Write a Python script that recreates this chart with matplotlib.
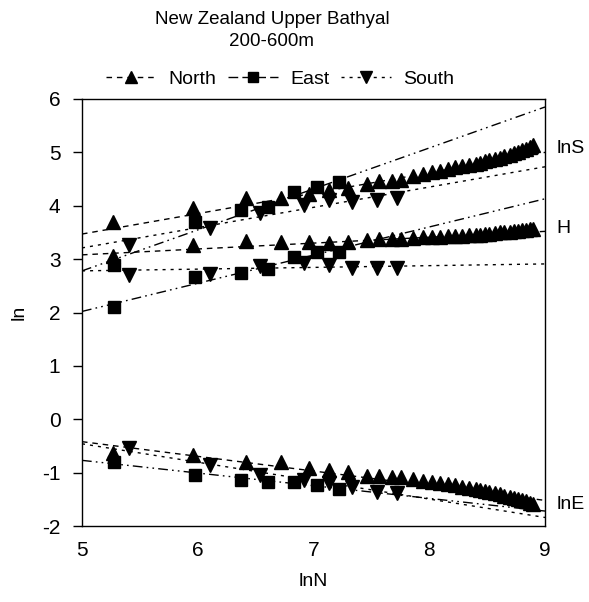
import matplotlib
matplotlib.use("Agg")
import matplotlib.pyplot as plt
from matplotlib.lines import Line2D

plt.rcParams['font.family'] = ['Liberation Sans', 'DejaVu Sans']
plt.rcParams['axes.unicode_minus'] = False

# ---- data ----
north_x = [5.27, 5.96, 6.42, 6.72, 6.96, 7.13, 7.30, 7.46, 7.57, 7.68, 7.76, 7.86,
           7.95, 8.02, 8.09, 8.16, 8.22, 8.28, 8.34, 8.40, 8.44, 8.48, 8.52, 8.57,
           8.61, 8.65, 8.70, 8.73, 8.77, 8.80, 8.84, 8.87, 8.90]
north_lnS = [3.70, 3.96, 4.15, 4.15, 4.22, 4.30, 4.33, 4.40, 4.47, 4.47, 4.48, 4.55,
             4.60, 4.63, 4.66, 4.69, 4.72, 4.74, 4.77, 4.79, 4.81, 4.83, 4.85, 4.88,
             4.90, 4.93, 4.96, 4.98, 5.01, 5.04, 5.07, 5.10, 5.13]
north_H = [3.06, 3.27, 3.34, 3.32, 3.32, 3.30, 3.32, 3.35, 3.38, 3.37, 3.38, 3.40,
           3.41, 3.42, 3.42, 3.43, 3.43, 3.44, 3.45, 3.46, 3.46, 3.47, 3.48, 3.49,
           3.50, 3.50, 3.51, 3.52, 3.53, 3.54, 3.55, 3.56, 3.57]
north_lnE = [-0.63, -0.67, -0.80, -0.80, -0.91, -0.95, -0.98, -1.06, -1.07, -1.08,
             -1.09, -1.12, -1.15, -1.17, -1.19, -1.21, -1.23, -1.26, -1.28, -1.30,
             -1.32, -1.34, -1.36, -1.38, -1.40, -1.43, -1.46, -1.48, -1.50, -1.52,
             -1.54, -1.56, -1.58]

east_x = [5.28, 5.98, 6.37, 6.61, 6.83, 7.03, 7.22]
east_lnS = [2.89, 3.70, 3.92, 3.98, 4.26, 4.35, 4.45]
east_H = [2.10, 2.67, 2.74, 2.81, 3.04, 3.13, 3.13]
east_lnE = [-0.80, -1.04, -1.13, -1.17, -1.17, -1.23, -1.30]

south_x = [5.41, 6.11, 6.54, 6.92, 7.13, 7.33, 7.55, 7.72]
south_lnS = [3.27, 3.58, 3.87, 4.01, 4.11, 4.07, 4.11, 4.15]
south_H = [2.70, 2.72, 2.87, 2.93, 2.89, 2.83, 2.83, 2.83]
south_lnE = [-0.54, -0.85, -1.04, -1.13, -1.19, -1.27, -1.36, -1.38]

# fitted lines: values at x = 5 and x = 9
fit_x = [5, 9]
north_fit = {'lnS': [3.47, 5.00], 'H': [3.08, 3.52], 'lnE': [-0.42, -1.52]}
east_fit = {'lnS': [2.78, 5.85], 'H': [2.02, 4.13], 'lnE': [-0.77, -1.72]}
south_fit = {'lnS': [3.21, 4.73], 'H': [2.78, 2.91], 'lnE': [-0.46, -1.84]}

right_labels = ['lnS', 'H', 'lnE']
right_label_y = [5.08, 3.58, -1.60]

# ---- styles ----
ls_north = (0, (4, 3.5))
ls_east = (0, (7, 3, 1.2, 3, 1.2, 3))
ls_south = (0, (2.2, 3.6))
lw = 1.0

fig = plt.figure(figsize=(5.89, 6.02), dpi=100)
ax = fig.add_axes([82/589, 1-526/602, (545-82)/589, (526-99)/602])

for key in ['lnS', 'H', 'lnE']:
    ax.plot(fit_x, north_fit[key], color='black', lw=lw, ls=ls_north, zorder=2)
    ax.plot(fit_x, east_fit[key], color='black', lw=lw, ls=ls_east, zorder=2)
    ax.plot(fit_x, south_fit[key], color='black', lw=lw, ls=ls_south, zorder=2)

for ys in [north_lnS, north_H, north_lnE]:
    ax.plot(north_x, ys, ls='none', marker='^', ms=9.5, color='black', zorder=3)
for ys in [east_lnS, east_H, east_lnE]:
    ax.plot(east_x, ys, ls='none', marker='s', ms=8, color='black', zorder=3)
for ys in [south_lnS, south_H, south_lnE]:
    ax.plot(south_x, ys, ls='none', marker='v', ms=9.5, color='black', zorder=3)

ax.set_xlim(5, 9)
ax.set_ylim(-2, 6)
ax.set_xticks([5, 6, 7, 8, 9])
ax.set_yticks([-2, -1, 0, 1, 2, 3, 4, 5, 6])
ax.tick_params(axis='y', direction='out', length=6.5, width=1, pad=9, labelsize=15)
ax.tick_params(axis='x', direction='in', length=0, pad=11, labelsize=15)
for s in ax.spines.values():
    s.set_linewidth(1.0)

for lab, yv in zip(right_labels, right_label_y):
    ax.text(9.10, yv, lab, fontsize=14, ha='left', va='center', clip_on=False)

ax.set_xlabel('lnN', fontsize=14, labelpad=9)
ax.set_ylabel('ln', fontsize=14, labelpad=10)

fig.text(272/589, 1-20/602, 'New Zealand Upper Bathyal', ha='center', va='center', fontsize=13.5)
fig.text(272/589, 1-41/602, '200-600m', ha='center', va='center', fontsize=13.5)

handles = [
    Line2D([], [], color='black', lw=lw, ls=ls_north, marker='^', ms=9),
    Line2D([], [], color='black', lw=lw, ls=(0, (7, 3)), marker='s', ms=7),
    Line2D([], [], color='black', lw=lw, ls=ls_south, marker='v', ms=9),
]
fig.legend(handles, ['North', 'East', 'South'], loc='center', ncol=3,
           bbox_to_anchor=(280/589, 1-79/602), frameon=False, fontsize=14,
           handlelength=2.6, columnspacing=0.6, handletextpad=0.6)

fig.savefig('out.png', dpi=100)
